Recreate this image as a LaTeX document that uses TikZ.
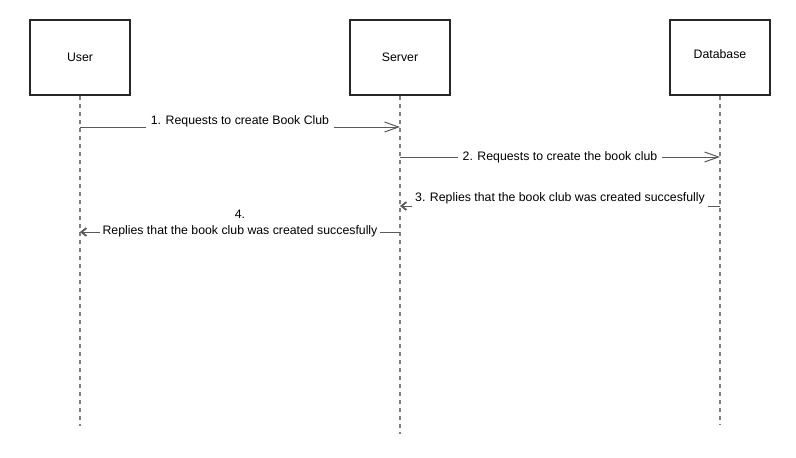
\documentclass[tikz,border=0pt]{standalone}
\usepackage{fontspec}
\setmainfont{Liberation Sans}
\usetikzlibrary{arrows.meta}
\begin{document}
\begin{tikzpicture}[x=1pt,y=-1pt,
  font=\fontsize{12.3}{16}\selectfont,
  actor/.style={draw=black!85, line width=1.5pt, minimum width=100pt, minimum height=75pt, inner sep=0pt},
  lifeline/.style={draw=black!50, line width=2pt, dash pattern=on 4pt off 4pt},
  msg/.style={draw=black!65, line width=1pt, -{Straight Barb[length=14pt,width=10pt,line width=1pt]}},
  reply/.style={draw=black!65, line width=1pt, -{Straight Barb[length=5pt,width=8pt,line width=1.8pt]}},
  lbl/.style={fill=white, inner xsep=3pt, inner ysep=2pt, text=black},
]
\useasboundingbox (0,0) rectangle (796,458);
\node[actor] (user) at (80,57.5) {User};
\node[actor] (server) at (400,57.5) {Server};
\node[actor] (db) at (720,57.5) {\raisebox{6pt}{Database}};

\coordinate (userend) at (80,426);
\coordinate (serverend) at (400,434);
\coordinate (dbend) at (720,424);
\draw[lifeline] (user.south) -- (userend);
\draw[lifeline] (server.south) -- (serverend);
\draw[lifeline] (db.south) -- (dbend);

\coordinate (u1) at (80,127);
\coordinate (s1) at (400,127);
\coordinate (s2) at (400,157);
\coordinate (d2) at (720,157);
\coordinate (d3) at (720,206);
\coordinate (s3) at (400,206);
\coordinate (s4) at (400,232);
\coordinate (u4) at (80,232);

\draw[msg] (u1) -- (s1) node[lbl, midway, yshift=6pt, inner xsep=5pt] {1. Requests to create Book Club};
\draw[msg] (s2) -- (d2) node[lbl, midway, inner xsep=5pt] {2. Requests to create the book club};
\draw[reply] (d3) -- (s3) node[lbl, midway, yshift=8pt, inner ysep=5pt] {3. Replies that the book club was created succesfully};
\draw[reply] (s4) -- (u4) node[lbl, midway, yshift=8pt, align=center, inner ysep=0pt] {4.\\Replies that the book club was created succesfully};
\end{tikzpicture}
\end{document}
